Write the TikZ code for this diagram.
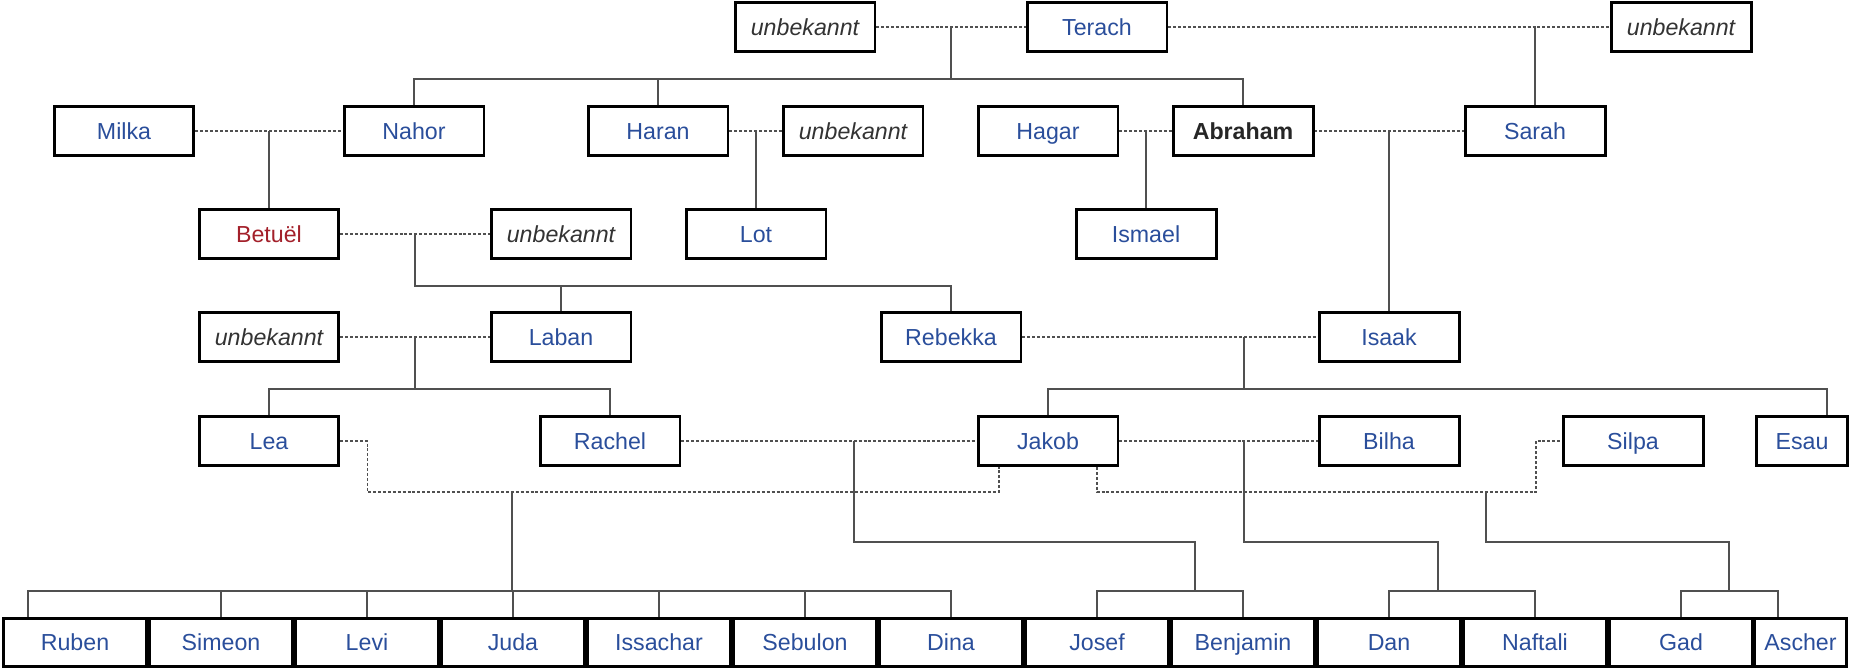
\documentclass[tikz,border=0pt]{standalone}
\usepackage{fontspec}
\setmainfont{Liberation Sans}
\usetikzlibrary{calc}
\definecolor{nameblue}{HTML}{2A4E9B}
\definecolor{namered}{HTML}{A3202A}
\definecolor{linegray}{HTML}{505050}

\begin{document}
\begin{tikzpicture}[x=0.02cm,y=-0.02cm,
    person/.style={draw,line width=1.7pt,minimum width=2.8cm,minimum height=0.98cm,inner sep=0pt,text height=9.4pt,text depth=0pt,text=nameblue,font=\fontsize{13.2}{15}\selectfont},
    child/.style={person,minimum width=2.86cm,minimum height=0.96cm},
    unknown/.style={person,text=black!80,font=\fontsize{13.2}{15}\selectfont\itshape},
    kin/.style={linegray,line width=0.75pt},
    wed/.style={kin,dash pattern=on 1.7pt off 1.1pt}]
        \useasboundingbox (0,0) rectangle (1851,669);
        \node[unknown] (unbT) at (805,27) {unbekannt};
        \node[person] (terach) at (1097,27) {Terach};
        \node[unknown] (unbS) at (1681,27) {unbekannt};
        \node[person] (milka) at (124,131) {Milka};
        \node[person] (nahor) at (414,131) {Nahor};
        \node[person] (haran) at (658,131) {Haran};
        \node[unknown] (unbH) at (853,131) {unbekannt};
        \node[person] (hagar) at (1048,131) {Hagar};
        \node[person,text=black!85,font=\fontsize{13.2}{15}\selectfont\bfseries] (abraham) at (1243,131) {Abraham};
        \node[person] (sarah) at (1535,131) {Sarah};
        \node[person,text=namered] (betuel) at (269,234) {Betuël};
        \node[unknown] (unbB) at (561,234) {unbekannt};
        \node[person] (lot) at (756,234) {Lot};
        \node[person] (ismael) at (1146,234) {Ismael};
        \node[unknown] (unbL) at (269,337) {unbekannt};
        \node[person] (laban) at (561,337) {Laban};
        \node[person] (rebekka) at (951,337) {Rebekka};
        \node[person] (isaak) at (1389,337) {Isaak};
        \node[person] (lea) at (269,441) {Lea};
        \node[person] (rachel) at (610,441) {Rachel};
        \node[person] (jakob) at (1048,441) {Jakob};
        \node[person] (bilha) at (1389,441) {Bilha};
        \node[person] (silpa) at (1633,441) {Silpa};
        \node[person,minimum width=1.82cm] (esau) at (1802,441) {Esau};
        \foreach \id/\name [count=\i from 0] in {ruben/Ruben,simeon/Simeon,levi/Levi,juda/Juda,issachar/Issachar,sebulon/Sebulon,dina/Dina,josef/Josef,benjamin/Benjamin,dan/Dan,naftali/Naftali,gad/Gad}
            \node[child] (\id) at (75+146*\i,642.5) {\name};
        \node[child,minimum width=1.84cm] (ascher) at (1800.5,642.5) {Ascher};

        \draw[wed] (unbT) -- (terach);
        \draw[wed] (terach) -- (unbS);
        \draw[kin] ($(unbT.east)!.5!(terach.west)$) -- ++(0,52) coordinate (terachkids);
        \draw[kin] (nahor) |- (terachkids) -| (abraham);
        \draw[kin] (haran) -- (haran |- terachkids);
        \draw[kin] (sarah) -- (sarah |- terach);

        \draw[wed] (milka) -- (nahor);
        \draw[kin] (betuel) -- (betuel |- milka);
        \draw[wed] (haran) -- (unbH);
        \draw[kin] (lot) -- (lot |- haran);
        \draw[wed] (hagar) -- (abraham);
        \draw[kin] (ismael) -- (ismael |- hagar);
        \draw[wed] (abraham) -- (sarah);
        \draw[kin] (isaak) -- (isaak |- sarah);

        \draw[wed] (betuel) -- (unbB);
        \draw[kin] ($(betuel.east)!.5!(unbB.west)$) -- ++(0,52) coordinate (betuelkids) -| (rebekka);
        \draw[kin] (laban) -- (laban |- betuelkids);
        \draw[wed] (unbL) -- (laban);
        \draw[kin] ($(unbL.east)!.5!(laban.west)$) -- ++(0,52) coordinate (labankids);
        \draw[kin] (lea) |- (labankids) -| (rachel);

        \draw[wed] (rebekka) -- (isaak);
        \coordinate (isaakkids) at (1244,389);
        \coordinate (esautick) at (1827,389);
        \draw[kin] (isaakkids |- isaak) -- (isaakkids);
        \draw[kin] (jakob) |- (esautick) -- (esautick |- esau.north);

        \coordinate (lealine) at (999,492);
        \coordinate (leakids) at (512,591);
        \coordinate (rubentick) at (28,591);
        \draw[wed] (lea.east) -- ++(27,0) |- (lealine) -- (lealine |- jakob.south);
        \draw[kin] (leakids |- lealine) -- (leakids);
        \draw[kin] (rubentick |- ruben.north) -- (rubentick) -| (dina);
        \foreach \k in {simeon,levi,juda,issachar,sebulon}
            \draw[kin] (\k) -- (\k |- leakids);

        \draw[wed] (rachel) -- (jakob);
        \coordinate (rachelknot) at (854,441);
        \coordinate (rachelkids) at (1195,591);
        \draw[kin] (rachelknot) -- ++(0,101) -| (rachelkids);
        \draw[kin] (josef) |- (rachelkids) -| (benjamin);

        \draw[wed] (jakob) -- (bilha);
        \coordinate (bilhaknot) at (1244,441);
        \coordinate (bilhakids) at (1438,591);
        \draw[kin] (bilhaknot) -- ++(0,101) -| (bilhakids);
        \draw[kin] (dan) |- (bilhakids) -| (naftali);

        \coordinate (silpaline) at (1097,492);
        \coordinate (silpabend) at (1536,492);
        \draw[wed] (silpaline |- jakob.south) -- (silpaline) -- (silpabend) |- (silpa);
        \coordinate (silpaknot) at (1486,492);
        \coordinate (silpakids) at (1729,591);
        \coordinate (aschertick) at (1778,591);
        \draw[kin] (silpaknot) -- ++(0,50) -| (silpakids);
        \draw[kin] (gad) |- (aschertick) -- (aschertick |- ascher.north);
\end{tikzpicture}
\end{document}
